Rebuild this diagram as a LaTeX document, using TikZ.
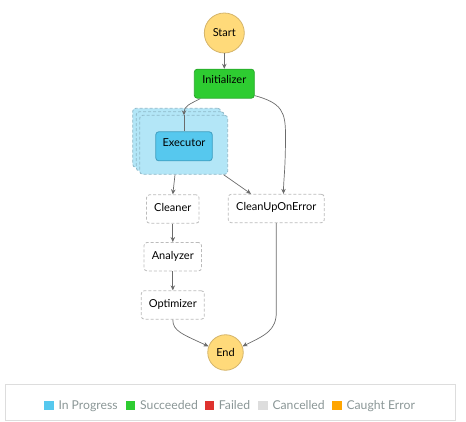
\documentclass[tikz,border=0pt]{standalone}
\usepackage{fontspec}
\setmainfont{Lato}
\usetikzlibrary{arrows.meta}
\definecolor{startfill}{HTML}{FFDA7A}
\definecolor{startdraw}{HTML}{D4B46A}
\definecolor{okfill}{HTML}{2ECC31}
\definecolor{okdraw}{HTML}{27A82A}
\definecolor{runfill}{HTML}{56C8EE}
\definecolor{rundraw}{HTML}{3E9DBF}
\definecolor{mapfill}{HTML}{B3E6F7}
\definecolor{mapdraw}{HTML}{8FB8C8}
\definecolor{pendraw}{HTML}{BBBBBB}
\definecolor{edgecol}{HTML}{6B6B6B}
\definecolor{legtext}{HTML}{8A9696}
\definecolor{failcol}{HTML}{DE322F}
\definecolor{cancol}{HTML}{DDDDDD}
\definecolor{caughtcol}{HTML}{FFA500}
\definecolor{legbox}{HTML}{DDDDDD}
\tikzset{
  terminal/.style={circle, fill=startfill, draw=startdraw, line width=0.8pt, inner sep=0pt, font=\fontsize{11}{13}\selectfont},
  okbox/.style={rectangle, rounded corners=3pt, fill=okfill, draw=okdraw, line width=0.8pt, minimum width=60pt, minimum height=29pt, inner sep=0pt, text height=8pt, text depth=8pt, font=\fontsize{11}{13}\selectfont},
  runbox/.style={rectangle, rounded corners=3pt, fill=runfill, draw=rundraw, line width=0.8pt, minimum width=56.5pt, minimum height=29pt, inner sep=0pt, text height=8pt, text depth=8pt, font=\fontsize{11}{13}\selectfont},
  maplayer/.style={rectangle, rounded corners=3pt, fill=mapfill, draw=mapdraw, dash pattern=on 3pt off 2pt, line width=0.8pt, minimum width=88pt, minimum height=59pt, inner sep=0pt},
  pendbox/.style={rectangle, rounded corners=3pt, fill=white, draw=pendraw, dash pattern=on 3pt off 2pt, line width=0.8pt, minimum height=28.5pt, inner sep=0pt, text height=8pt, text depth=3pt, font=\fontsize{11}{13}\selectfont},
  edge/.style={draw=edgecol, line width=0.7pt, -{Stealth[length=5pt,width=4.5pt]}},
  plain/.style={draw=edgecol, line width=0.7pt},
  legsq/.style={rectangle, minimum size=9.4pt, inner sep=0pt},
  legtxt/.style={anchor=west, inner sep=0pt, text=legtext, text height=8.8pt, text depth=0pt, font=\fontsize{12.2}{14}\selectfont},
}
\begin{document}
\begin{tikzpicture}[x=1pt,y=-1pt]
\useasboundingbox (0,0) rectangle (466,422);
% nodes
\node[terminal, minimum size=40pt] (start) at (224.3,33) {Start};
\node[okbox] (init) at (224.3,83.7) {Initializer};
\node[maplayer] (mapc) at (176.7,137.8) {};
\node[maplayer] (mapb) at (180.2,141.3) {};
\node[maplayer] (mapa) at (183.7,144.8) {};
\node[runbox] (exec) at (184,146.3) {Executor};
\node[pendbox, minimum width=52.5pt] (clean) at (172.8,209) {Cleaner};
\node[pendbox, minimum width=96pt] (cuoe) at (276.3,208.5) {CleanUpOnError};
\node[pendbox, minimum width=57.5pt] (anal) at (172.8,256.7) {Analyzer};
\node[pendbox, minimum width=63pt] (opt) at (172.8,305) {Optimizer};
\node[terminal, minimum size=35.5pt] (end) at (225.5,352.5) {End};
% helper coordinates
\coordinate (mtop) at (184,115.3);
\coordinate (cuoeIn1) at ([xshift=-25.3pt]cuoe.north);
\coordinate (cuoeIn2) at ([xshift=7.2pt]cuoe.north);
% edges
\draw[edge] (start) -- (init);
\draw[edge] ([xshift=6.5pt]init.south west) .. controls (190,104) and (184,106) .. (mtop);
\draw[plain] (mtop) -- (exec.north);
\draw[edge] ([yshift=3pt]init.south east) .. controls (282,103) and (285.5,112) .. (285.5,135) .. controls (285.5,170) and (283.5,180) .. (cuoeIn2);
\draw[edge] ([xshift=-8.7pt]mapa.south) -- (clean.north);
\draw[edge] ([xshift=-4.5pt]mapa.south east) -- (cuoeIn1);
\draw[edge] (clean) -- (anal);
\draw[edge] (anal) -- (opt);
\draw[edge] (opt.south) .. controls (172.8,331) and (182,334) .. (end.160);
\draw[edge] (cuoe.south) -- (276.3,312) .. controls (276.3,330) and (266,335) .. (end.20);
% legend
\node[draw=legbox, line width=0.8pt, minimum width=449.3pt, minimum height=36.4pt, inner sep=0pt] (legend) at (230.35,402.5) {};
\node[legsq, fill=runfill] (sq1) at (49,405.3) {};
\node[legtxt] (t1) at (58.3,405.3) {In Progress};
\node[legsq, fill=okfill] (sq2) at (130.7,405.3) {};
\node[legtxt] (t2) at (140,405.3) {Succeeded};
\node[legsq, fill=failcol] (sq3) at (209.7,405.3) {};
\node[legtxt] (t3) at (218.7,405.3) {Failed};
\node[legsq, fill=cancol] (sq4) at (263,405.3) {};
\node[legtxt] (t4) at (272.3,405.3) {Cancelled};
\node[legsq, fill=caughtcol] (sq5) at (337,405.3) {};
\node[legtxt] (t5) at (346.3,405.3) {Caught Error};
\end{tikzpicture}
\end{document}
